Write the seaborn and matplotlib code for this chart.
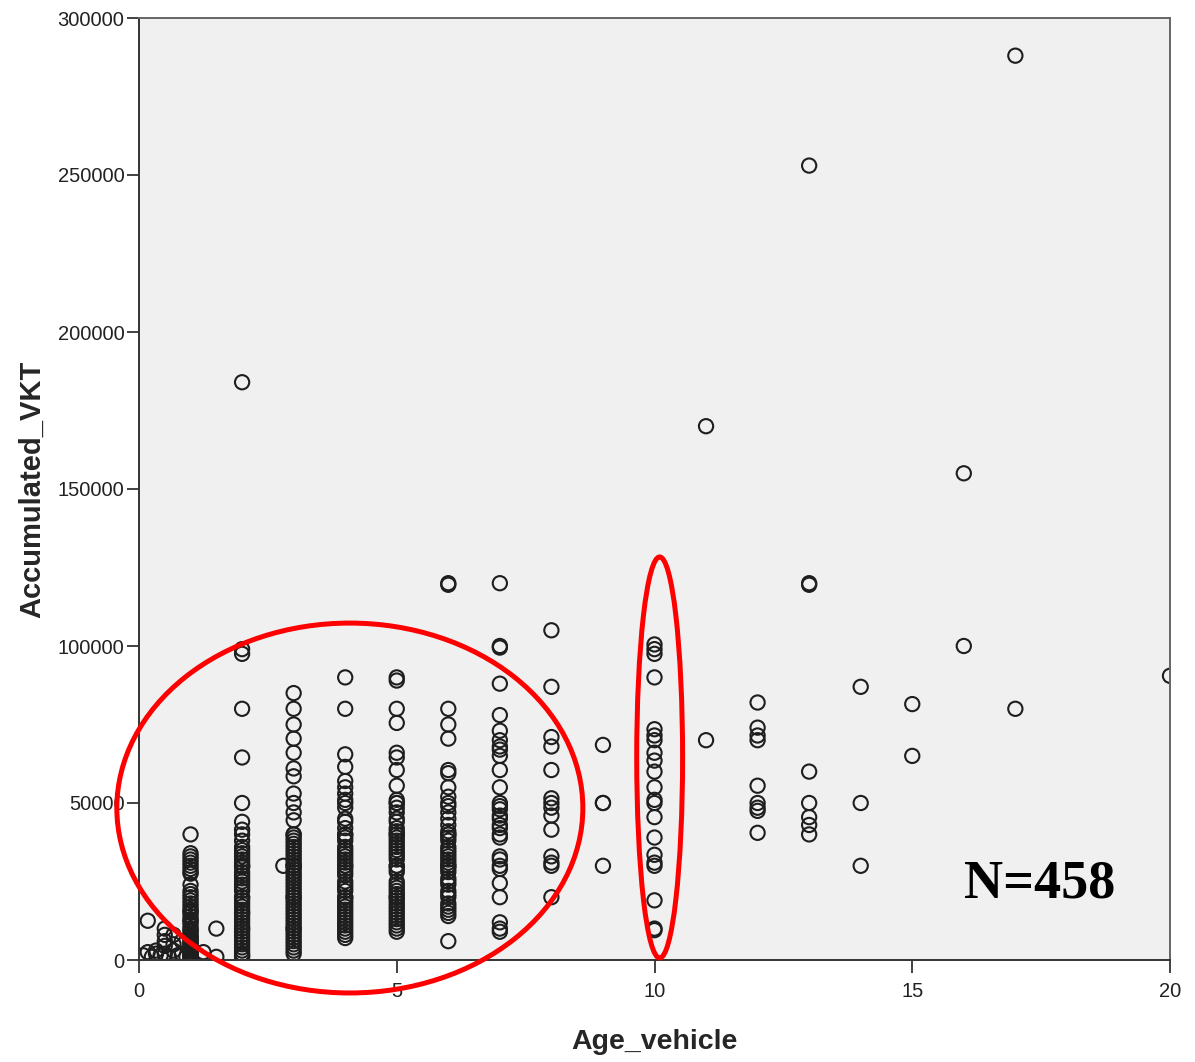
"""Scatter of accumulated VKT against vehicle age."""
import numpy as np
import pandas as pd
import seaborn as sns

from matplotlib import pyplot as plt
from matplotlib.patches import Ellipse
from matplotlib.ticker import StrMethodFormatter


# vehicles younger than one year (fractional ages) and a few odd ones
young_age = [0.17, 0.08, 0.17, 0.25, 0.33, 0.33, 0.42, 0.5, 0.5, 0.5, 0.5,
             0.5, 0.58, 0.67, 0.67, 0.67, 0.75, 0.83, 0.83, 0.92, 1.25, 1.5,
             1.5, 2.8]
young_vkt = [12500, 1500, 2500, 1000, 2000, 3000, 1500, 10000, 8000, 6000,
             4500, 2000, 1000, 3000, 5000, 8000, 1500, 2000, 6000, 1000, 2500,
             10000, 1000, 30000]

vkt_age1 = [40000, 34000, 33000, 32000, 31000, 30000, 29000, 28000, 27500,
            24000, 22000, 21000, 20000, 19000, 18000, 17000, 16000, 15000,
            14000, 13000, 12000, 11000, 10000, 9500, 9000, 8000, 7500, 7000,
            6000, 5500, 5000, 4500, 4000, 3500, 3000, 2500, 2000, 1500, 1000,
            500, 800, 1200, 2200, 3200, 6500, 12500, 15500]
vkt_age2 = [184000, 99000, 97500, 80000, 64500, 50000, 44000, 41500, 40000,
            38000, 36000, 35000, 34000, 33000, 32000, 31000, 30000, 29500,
            28000, 27000, 26000, 25000, 24000, 23000, 22000, 20000, 19000,
            18000, 17000, 16000, 15000, 14000, 13000, 12000, 11000, 10000,
            9000, 8000, 7000, 6000, 5000, 4000, 3000, 2000, 1500, 1000, 30000,
            20000, 15000, 10000]
vkt_age3 = [85000, 80000, 75000, 70500, 66000, 61000, 58500, 53000, 50000,
            47000, 44500, 40000, 39000, 38000, 37000, 36000, 35000, 34000,
            33000, 32000, 31000, 30000, 30000, 29000, 28000, 27000, 26000,
            25000, 24000, 23000, 22000, 21000, 20000, 19000, 18000, 17000,
            16000, 15000, 14000, 13000, 12000, 11000, 10000, 9000, 8000,
            7000, 6000, 5000, 4000, 3000, 2000, 40000, 20000, 10000, 30000]
vkt_age4 = [90000, 80000, 65500, 61500, 57000, 55000, 53000, 51000, 50000,
            48500, 45000, 44000, 42000, 40000, 39000, 38000, 36000, 35000,
            34000, 33000, 32000, 31000, 30000, 29000, 28000, 27000, 25000,
            24000, 23000, 22000, 20000, 19000, 18000, 17000, 16000, 15000,
            14000, 13000, 12000, 11000, 10000, 9000, 8000, 7000, 40000,
            30000, 20000]
vkt_age5 = [90000, 89000, 80000, 75500, 66000, 64500, 60500, 55500, 51000,
            50000, 48500, 47000, 45000, 44000, 42000, 41000, 40000, 39000,
            38000, 37000, 36000, 35000, 34000, 33000, 32000, 30000, 29000,
            28000, 25000, 24000, 23000, 22000, 21000, 20000, 19000, 18000,
            17000, 16000, 15000, 14000, 13000, 12000, 11000, 10000, 9000,
            50000, 40000, 30000, 20000]
vkt_age6 = [120000, 119500, 80000, 75000, 70500, 60500, 59500, 55000, 52000,
            50000, 49000, 47000, 45000, 43000, 41000, 40000, 39000, 38000,
            36000, 35000, 34000, 33000, 32000, 31000, 30000, 29000, 28000,
            26000, 25000, 24000, 22000, 21000, 20000, 18000, 17000, 16000,
            15000, 14000, 6000, 40000, 30000]
vkt_age7 = [120000, 100000, 99500, 88000, 78000, 73000, 70000, 68000, 67000,
            65000, 60500, 55000, 50000, 49000, 48000, 46000, 45000, 43000,
            42000, 40000, 39000, 33000, 32000, 30000, 29000, 24500, 20000,
            12000, 10000, 9000]
vkt_age8 = [105000, 87000, 71000, 68000, 60500, 51500, 50000, 48500, 46000,
            41500, 33000, 31000, 30000, 20000]
vkt_age9 = [68500, 50000, 50000, 30000]
vkt_age10 = [100500, 99000, 97500, 90000, 73500, 71500, 70000, 66000, 63500,
             60000, 55000, 51000, 50000, 45500, 39000, 33500, 31000, 30000,
             19000, 10000, 9500]
vkt_age11 = [170000, 70000]
vkt_age12 = [82000, 74000, 71500, 70000, 55500, 50000, 48500, 47500, 40500]
vkt_age13 = [253000, 120000, 119500, 60000, 50000, 45500, 43000, 40000]
vkt_age14 = [87000, 50000, 30000]
vkt_age15 = [81500, 65000]
vkt_age16 = [155000, 100000]
vkt_age17 = [288000, 80000]
vkt_age20 = [90500]

x_ticks = [0, 5, 10, 15, 20]
y_ticks = [0, 50000, 100000, 150000, 200000, 250000, 300000]


def build_frame():
    """Stack the per-age lists into one long table."""
    columns = {
        1: vkt_age1, 2: vkt_age2, 3: vkt_age3, 4: vkt_age4, 5: vkt_age5,
        6: vkt_age6, 7: vkt_age7, 8: vkt_age8, 9: vkt_age9, 10: vkt_age10,
        11: vkt_age11, 12: vkt_age12, 13: vkt_age13, 14: vkt_age14,
        15: vkt_age15, 16: vkt_age16, 17: vkt_age17, 20: vkt_age20,
    }
    ages = list(young_age)
    vkts = list(young_vkt)
    for age, values in columns.items():
        ages += [age] * len(values)
        vkts += values
    return pd.DataFrame({"Age_vehicle": ages, "Accumulated_VKT": vkts})


def make_plot(df):
    sns.set_style("ticks")
    plt.rcParams["font.family"] = ["Liberation Sans", "DejaVu Sans"]

    fig = plt.figure(figsize=(11.95, 10.62), dpi=100)
    ax = fig.add_axes([139 / 1195, 102 / 1062, 1031 / 1195, 942 / 1062])
    ax.set_facecolor("#f0f0f0")

    sns.scatterplot(
        data=df, x="Age_vehicle", y="Accumulated_VKT", ax=ax,
        marker="o", s=105, facecolor="none", edgecolor="#1e1e1e",
        linewidth=1.5, legend=False, zorder=2,
    )

    ax.set_xlim(0, 20)
    ax.set_ylim(0, 300000)
    ax.set_xticks(x_ticks)
    ax.set_yticks(y_ticks)
    ax.yaxis.set_major_formatter(StrMethodFormatter("{x:.0f}"))
    ax.tick_params(direction="out", length=9, width=1.3, color="#333333",
                   labelsize=14.5, labelcolor="#222222")
    ax.tick_params(axis="y", pad=1.5)
    ax.tick_params(axis="x", pad=6.5)

    for side, spine in ax.spines.items():
        spine.set_visible(True)
        spine.set_linewidth(1.4)
        spine.set_color("#333333" if side in ("left", "bottom") else "#666666")

    ax.set_xlabel("Age_vehicle", fontsize=20.5, fontweight="bold")
    ax.set_ylabel("Accumulated_VKT", fontsize=21, fontweight="bold")
    ax.xaxis.set_label_coords(0.5, -0.073)
    ax.yaxis.set_label_coords(-0.09, 0.5)

    # red highlight rings
    ax.add_patch(Ellipse((4.09, 48400), 9.04, 117800, fill=False,
                         edgecolor="#ff0000", linewidth=3.6, clip_on=False,
                         zorder=4))
    ax.add_patch(Ellipse((10.1, 64500), 0.89, 127700, fill=False,
                         edgecolor="#ff0000", linewidth=3.6, clip_on=False,
                         zorder=4))

    ax.text(17.48, 24000, "N=458", ha="center", va="center",
            fontsize=39, fontweight="bold", family=["Liberation Serif"],
            color="black", zorder=5)

    fig.savefig("out.png", dpi=100, facecolor="w")
    plt.close("all")


if __name__ == '__main__':
    make_plot(build_frame())
